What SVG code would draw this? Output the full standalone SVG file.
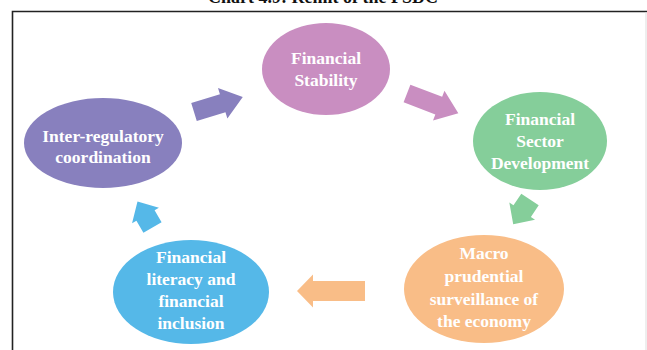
<svg xmlns="http://www.w3.org/2000/svg" width="647" height="350" viewBox="0 0 647 350">
<style>
.lbl{font-family:"Liberation Serif","Times New Roman",serif;font-weight:bold;font-size:17.5px;fill:#ffffff;text-anchor:middle}
.title{font-family:"Liberation Serif","Times New Roman",serif;font-weight:bold;font-size:18px;fill:#111;text-anchor:middle}
</style>
<rect width="647" height="350" fill="#ffffff"/>
<text class="title" x="323" y="3">Chart 4.9: Remit of the FSDC</text>
<g id="frame" fill="none">
<path d="M12.5,350 V11.5 H647" stroke="#222" stroke-width="1.6"/>
<path d="M646,12 V350" stroke="#ddd" stroke-width="1"/>
</g>
<g id="connectors">
<path d="M0,-9.5 H30 V-16 L51,0 L30,16 V9.5 H0 Z" fill="#8880BE" transform="translate(194,112) rotate(-17)"/>
<path d="M0,-9.5 H34 V-16 L55,0 L34,16 V9.5 H0 Z" fill="#C98EC1" transform="translate(407,93.5) rotate(21)"/>
<path d="M0,-10.5 H14 V-15.5 L30,0 L14,15.5 V10.5 H0 Z" fill="#85CE9A" transform="translate(530,199.5) rotate(124)"/>
<path d="M0,-10 H52 V-16.5 L68,0 L52,16.5 V10 H0 Z" fill="#F9BD87" transform="translate(365,291) rotate(180)"/>
<path d="M0,-10.5 H14 V-15.5 L30,0 L14,15.5 V10.5 H0 Z" fill="#55B8E8" transform="translate(152.5,227.5) rotate(-120)"/>
</g>
<g id="financial-stability">
<ellipse cx="326" cy="69" rx="64" ry="46" fill="#C98EC1"/>
<text class="lbl" x="326" y="64">Financial</text>
<text class="lbl" x="326" y="86">Stability</text>
</g>
<g id="financial-sector-development">
<ellipse cx="540" cy="141" rx="67" ry="49" fill="#85CE9A"/>
<text class="lbl" x="540" y="125">Financial</text>
<text class="lbl" x="540" y="147">Sector</text>
<text class="lbl" x="540" y="169">Development</text>
</g>
<g id="macro-prudential">
<ellipse cx="484" cy="289" rx="80" ry="54" fill="#F9BD87"/>
<text class="lbl" x="484" y="259">Macro</text>
<text class="lbl" x="484" y="282">prudential</text>
<text class="lbl" x="484" y="305">surveillance of</text>
<text class="lbl" x="484" y="327">the economy</text>
</g>
<g id="financial-literacy">
<ellipse cx="191" cy="292" rx="78" ry="52" fill="#55B8E8"/>
<text class="lbl" x="191" y="263">Financial</text>
<text class="lbl" x="191" y="285">literacy and</text>
<text class="lbl" x="191" y="307">financial</text>
<text class="lbl" x="191" y="329">inclusion</text>
</g>
<g id="inter-regulatory">
<ellipse cx="103" cy="143" rx="79" ry="45" fill="#8880BE"/>
<text class="lbl" x="103" y="142">Inter-regulatory</text>
<text class="lbl" x="103" y="163">coordination</text>
</g>
</svg>
